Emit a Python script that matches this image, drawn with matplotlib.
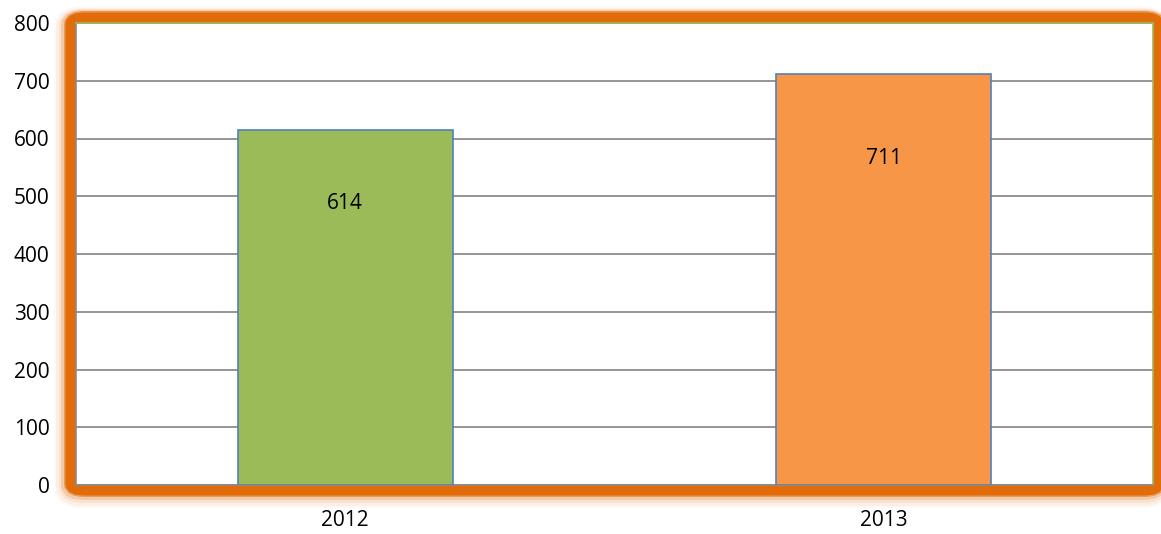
import matplotlib
matplotlib.use("Agg")
import matplotlib.pyplot as plt
from matplotlib.patches import FancyBboxPatch

categories = ["2012", "2013"]
values = [614, 711]
colors = ["#9BBB59", "#F79646"]
yticks = [0, 100, 200, 300, 400, 500, 600, 700, 800]

plt.rcParams['font.family'] = ['Open Sans', 'DejaVu Sans']

W, H = 1161, 534
fig = plt.figure(figsize=(W/100, H/100), dpi=100)
L, R, T, B = 76, 1153, 23, 485
ax = fig.add_axes([L/W, 1 - B/H, (R-L)/W, (B-T)/H])
ax.set_zorder(2)
ax.set_facecolor("white")

x = list(range(len(categories)))
ax.bar(x, values, width=0.4, color=colors, edgecolor="#4F81BD", linewidth=1.2, zorder=3)
for xi, v in zip(x, values):
    ax.text(xi, v * 0.795, str(v), ha="center", va="center", fontsize=15, color="black", zorder=4)

ax.set_xlim(-0.5, 1.5)
ax.set_ylim(0, 800)
ax.set_yticks(yticks)
ax.set_yticklabels([str(t) for t in yticks], fontsize=15)
ax.set_xticks(x)
ax.set_xticklabels(categories, fontsize=15)
ax.tick_params(axis="y", length=0, pad=19)
ax.tick_params(axis="x", length=0, pad=18)
ax.yaxis.grid(True, color="#8C8C8C", linewidth=1.3, zorder=1)
ax.set_axisbelow(True)
for s in ax.spines.values():
    s.set_color("#9BBB59")
    s.set_linewidth(1.2)
ax.spines["bottom"].set_color("#8C8C8C")
ax.spines["left"].set_color("#8C8C8C")

# glowing orange frame
pad = 5
for lw, a, dx, dy in [(30, 0.04, -2, 3), (26, 0.06, -2, 3), (22, 0.1, -1, 2), (18, 0.2, -1, 1), (14, 0.5, 0, 0), (11, 1.0, 0, 0)]:
    box = FancyBboxPatch(((L - pad + dx)/W, 1 - (B + pad + dy)/H), (R - L + 2*pad)/W, (B - T + 2*pad)/H,
                         boxstyle="round,pad=0,rounding_size=0.012",
                         transform=fig.transFigure, fill=False,
                         edgecolor="#E36C0A", linewidth=lw * 0.72, alpha=a, zorder=-1)
    fig.patches.append(box)

fig.savefig("out.png", dpi=100)
